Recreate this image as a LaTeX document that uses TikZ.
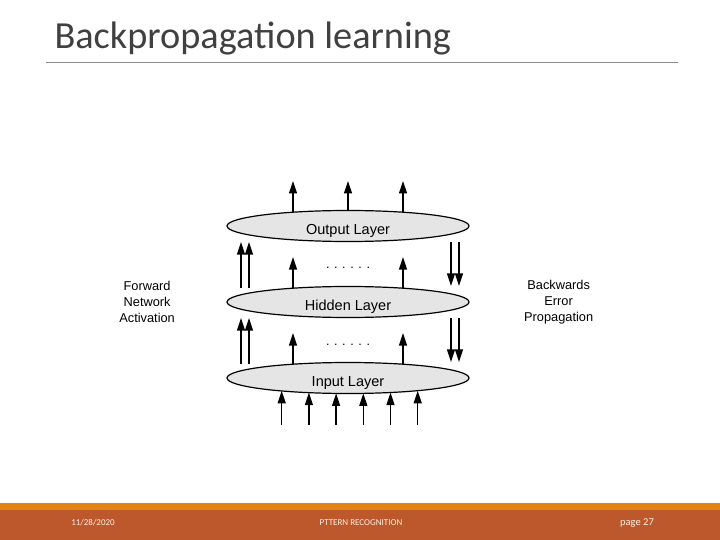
\documentclass[tikz,border=0pt]{standalone}
\usepackage{fontspec}
\setmainfont{Liberation Sans}
\newfontfamily\slidefont{Carlito}
\usetikzlibrary{arrows.meta, positioning, shapes.geometric, calc}

\definecolor{slidegray}{HTML}{404040}
\definecolor{barorange}{HTML}{E48312}
\definecolor{barbrown}{HTML}{BD582C}

\begin{document}
\begin{tikzpicture}[
    x=1pt, y=-1pt,
    layer/.style={ellipse, draw, line width=1.2pt, fill=gray!20, minimum width=242pt,
        minimum height=31pt, inner sep=0pt, text height=17pt, text depth=0pt,
        font=\fontsize{14.5}{16}\selectfont},
    arrow/.style={-{Triangle[width=8pt,length=12.5pt]}, line width=1.3pt},
    side/.style={align=center, font=\fontsize{12.8}{16}\selectfont},
    dots/.style={inner sep=0pt, font=\fontsize{12.5}{14}\selectfont},
    foot/.style={text=white!88!barorange, font=\slidefont\fontsize{9}{10}\selectfont}
]
\useasboundingbox (0,0) rectangle (720,540);

% slide frame
\node[anchor=base west, text=slidegray, font=\slidefont\fontsize{38.3}{42}\selectfont]
    (title) at (51,49) {Backpropagation learning};
\draw[gray!90, line width=0.8pt] (46,62) -- (678,62);
\fill[barorange] (0,503) rectangle (720,510);
\fill[barbrown] (0,510) rectangle (720,540);
\node[foot] (date) at (93,523) {11/28/2020};
\node[foot] (topic) at (361,523) {PTTERN RECOGNITION};
\node[foot, font=\slidefont\fontsize{10.5}{12}\selectfont] (page) at (637,523) {page 27};

% layers
\node[layer] (out) at (348,226) {Output Layer};
\node[layer] (hid) at (348,302) {Hidden Layer};
\node[layer] (inp) at (348,378) {Input Layer};

\node[dots] (dots1) at (348,268) {. . . . . .};
\node[dots] (dots2) at (348,345) {. . . . . .};

\node[side, left=48pt of hid] (fwd) {Forward\\Network\\Activation};
\node[side, right=51pt of hid] (bwd) {Backwards\\Error\\Propagation};

% outputs
\foreach \dx [count=\i] in {-55,0,55} {
    \pgfmathsetmacro\dy{15.5*sqrt(1-(\dx/121)^2)}
    \coordinate (top\i) at ($(out.center)+(\dx,-45)$);
    \draw[arrow] ($(out.center)+(\dx,-\dy)$) -- (top\i);
}

% between layers
\foreach \lo/\hi in {hid/out, inp/hid} {
    \draw[arrow] ($(\lo.center)+(-55,-13.8)$) -- ($(\hi.south)+(-55,15)$);
    \draw[arrow] ($(\lo.center)+(55,-13.8)$) -- ($(\hi.south)+(55,15)$);
    \draw[arrow] ([xshift=-107pt, yshift=-2pt]\lo.north) -- ([xshift=-107pt]\hi.south);
    \draw[arrow] ([xshift=-99pt, yshift=-2pt]\lo.north) -- ([xshift=-99pt]\hi.south);
    \draw[arrow] ([xshift=103pt]\hi.south) -- ([xshift=103pt]\lo.north);
    \draw[arrow] ([xshift=111pt]\hi.south) -- ([xshift=111pt]\lo.north);
}

% inputs
\foreach \dx [count=\i] in {-68,-40.8,-13.6,13.6,40.8,68} {
    \pgfmathsetmacro\dy{15.5*sqrt(1-(\dx/121)^2)}
    \coordinate (in\i) at ($(inp.center)+(\dx+1.7,47)$);
    \draw[arrow] (in\i) -- ($(inp.center)+(\dx+1.7,\dy)$);
}
\end{tikzpicture}
\end{document}
